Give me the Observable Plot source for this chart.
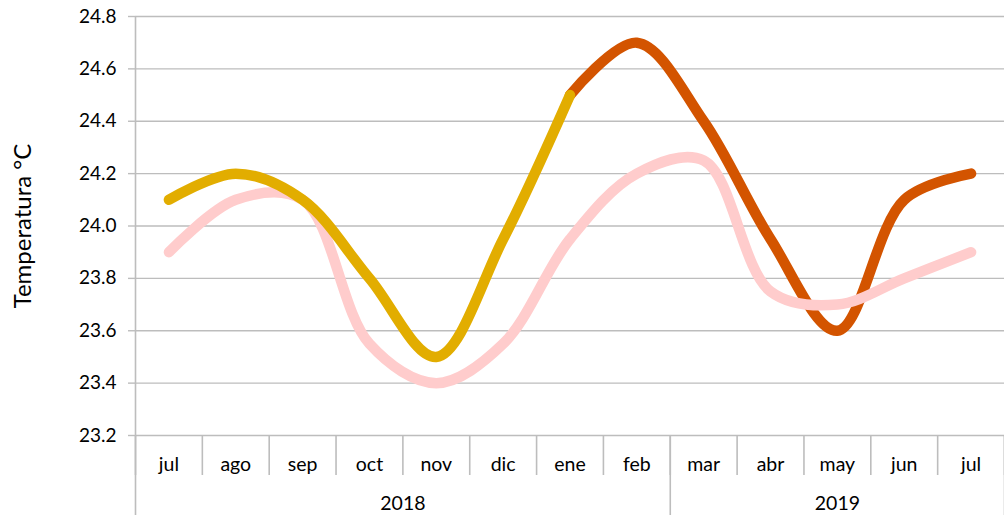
<!DOCTYPE html>
<html>
<head>
<meta charset="utf-8">
<script src="https://cdn.jsdelivr.net/npm/d3@7"></script>
<script src="https://cdn.jsdelivr.net/npm/@observablehq/plot@0.6"></script>
<style>
  html, body { margin: 0; padding: 0; background: #fff; }
  #chart svg { display: block; }
</style>
</head>
<body>
<div id="chart"></div>
<script>
// ---- data ----
const months = ["jul","ago","sep","oct","nov","dic","ene","feb","mar","abr","may","jun","jul"];
const years = ["2018", "2019"];
const monthsPerYear = [8, 5];
const yTicks = [23.2, 23.4, 23.6, 23.8, 24.0, 24.2, 24.4, 24.6, 24.8];
const pinkValues   = [23.9, 24.1, 24.1, 23.55, 23.4, 23.55, 23.95, 24.2, 24.25, 23.75, 23.7, 23.8, 23.9];
const goldValues   = [24.1, 24.2, 24.1, 23.8, 23.5, 23.95, 24.5];            // jul 2018 .. ene
const orangeValues = [24.5, 24.7, 24.4, 23.95, 23.6, 24.1, 24.2];            // ene .. jul 2019
const orangeStart = 6;

// ---- derived tables ----
const pink = pinkValues.map((v, i) => ({i: i + 0.5, v}));
const gold = goldValues.map((v, i) => ({i: i + 0.5, v}));
const orange = orangeValues.map((v, i) => ({i: orangeStart + i + 0.5, v}));
const n = months.length;
const boundaries = d3.range(0, n + 1);
const centers = d3.range(0, n).map(i => i + 0.5);
const yearEdges = [0];
monthsPerYear.forEach(c => yearEdges.push(yearEdges[yearEdges.length - 1] + c));
const yearCenters = monthsPerYear.map((c, k) => yearEdges[k] + c / 2);

const font = "Lato, 'Open Sans', sans-serif";
const grid = "#bdbdbd";
const lw = 10.5;

const chart = Plot.plot({
  width: 1004,
  height: 518,
  marginLeft: 135,
  marginRight: 0,
  marginTop: 16,
  marginBottom: 83,
  style: {fontFamily: font, color: "#000", background: "#fff"},
  x: {type: "linear", domain: [0, n]},
  y: {domain: [23.2, 24.8]},
  marks: [
    Plot.gridY(yTicks, {stroke: grid, strokeOpacity: 1, strokeWidth: 1.4}),
    Plot.axisY(yTicks, {tickSize: 7, tickPadding: 12, stroke: grid, strokeWidth: 1.4, fontSize: 19, tickFormat: d3.format(".1f"), label: null}),
    // y axis title
    Plot.text(["Temperatura °C"], {frameAnchor: "left", textAnchor: "middle", rotate: -90, dx: -112, fontSize: 24, fill: "#000"}),
    // category ticks
    Plot.axisX(boundaries, {tickSize: 40, stroke: grid, strokeWidth: 1.6, tickFormat: () => "", label: null}),
    // year separators
    Plot.axisX(yearEdges, {tickSize: 80, stroke: grid, strokeWidth: 1.6, tickFormat: () => "", label: null}),
    // month labels
    Plot.axisX(centers, {tickSize: 0, tickPadding: 22, fontSize: 19.5, tickFormat: d => months[Math.floor(d)], label: null}),
    // year labels
    Plot.axisX(yearCenters, {tickSize: 0, tickPadding: 61, fontSize: 19.5, tickFormat: d => years[yearCenters.indexOf(d)], label: null}),
    // left axis line (frame)
    Plot.ruleX([0], {stroke: grid, strokeWidth: 1.6}),
    // series
    Plot.line(orange, {x: "i", y: "v", stroke: "#d35400", strokeWidth: lw, curve: "catmull-rom", strokeLinecap: "round"}),
    Plot.line(pink, {x: "i", y: "v", stroke: "#ffcccc", strokeWidth: lw, curve: "catmull-rom", strokeLinecap: "round"}),
    Plot.line(gold, {x: "i", y: "v", stroke: "#e2ad00", strokeWidth: lw, curve: "catmull-rom", strokeLinecap: "round"})
  ]
});
document.getElementById("chart").appendChild(chart);
</script>
</body>
</html>
